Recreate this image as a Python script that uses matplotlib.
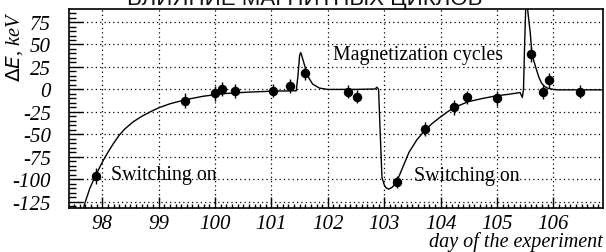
import matplotlib
matplotlib.use("Agg")
import matplotlib.pyplot as plt
from matplotlib.ticker import MultipleLocator, FixedLocator

# measured points
day = [97.88, 99.47, 100.00, 100.13, 100.35, 101.02, 101.33, 101.60, 102.36, 102.52,
       103.22, 103.73, 104.24, 104.47, 105.00, 105.60, 105.81, 105.92, 106.47]
dE = [-96, -12.5, -4.5, 0.5, -2, -1.5, 3.5, 18, -2.5, -8,
      -103, -44, -20, -9, -10, 39, -3, 10, -2.5]
dE_err = [9, 8, 8, 8, 8, 7, 8, 7, 7, 7, 7, 8, 8, 7, 8, 8, 8, 8, 7]

# fitted curve
curve_day = [97.62, 97.70, 97.78, 97.88, 98.00, 98.10, 98.20, 98.30, 98.40, 98.55,
             98.70, 98.85, 99.00, 99.20, 99.47, 99.80, 100.20, 100.60, 101.00,
             101.44, 101.47, 101.50, 101.52, 101.55,
             101.61, 101.67, 101.73, 101.85, 102.00, 102.50, 102.84, 102.87, 102.90,
             102.93, 102.96, 103.00, 103.03, 103.08, 103.14, 103.22, 103.32, 103.44,
             103.58, 103.73, 103.85, 103.97, 104.10, 104.24, 104.50, 104.75, 105.00,
             105.20, 105.41, 105.45, 105.47, 105.49, 105.51, 105.53, 105.55,
             105.59, 105.62, 105.68, 105.74, 105.79, 105.85, 105.91, 106.06, 106.90]
curve_dE = [-142, -125, -110, -96, -81, -70, -60, -51, -44, -36,
            -30, -25, -20.5, -16, -11.5, -7.5, -4.5, -3, -2,
            -1.5, 15, 38, 41, 35,
            22, 12, 6, 1.5, 0, 0, 0.5, 2.5, 0,
            -50, -98, -106, -109.5, -111, -109, -103, -88, -70,
            -56, -45, -38, -32, -26, -20, -13.5, -10, -7,
            -5.5, -3.5, -9, 0, 50, 92, 100, 85,
            63, 39, 26, 14, 7, 3, 1, -0.5, -0.5]

yticks = [75, 50, 25, 0, -25, -50, -75, -100, -125]
xticks = [98, 99, 100, 101, 102, 103, 104, 105, 106]

serif = ["Liberation Serif", "DejaVu Serif"]

fig = plt.figure(figsize=(6.06, 2.53), dpi=100)
ax = fig.add_axes([69/606, 44/253, 534/606, 199/253])

ax.plot(curve_day, curve_dE, color="black", lw=1.0, zorder=3)
ax.errorbar(day, dE, yerr=dE_err, fmt="o", color="black", ms=5.8, elinewidth=1.0,
            capsize=0, zorder=4)

ax.set_xlim(97.41, 106.88)
ax.set_ylim(-132, 89.5)

ax.xaxis.set_major_locator(FixedLocator(xticks))
ax.yaxis.set_major_locator(FixedLocator(yticks))
ax.xaxis.set_minor_locator(MultipleLocator(0.1))
ax.yaxis.set_minor_locator(MultipleLocator(5))
ax.set_xticklabels([str(t) for t in xticks])
ax.set_yticklabels([str(t) for t in yticks])

ax.tick_params(axis="x", which="major", direction="in", length=8, width=1, pad=4,
               top=False)
ax.tick_params(axis="x", which="minor", direction="in", length=3, width=1, top=False)
ax.tick_params(axis="y", which="major", direction="in", length=10, width=1, pad=13,
               right=False)
ax.tick_params(axis="y", which="minor", direction="in", length=5, width=1, right=False)
for lab in ax.get_xticklabels() + ax.get_yticklabels():
    lab.set_fontfamily(serif)
    lab.set_fontstyle("italic")
    lab.set_fontsize(15)

ax.grid(True, which="major", color="black", linestyle=(0, (1, 2.5)), lw=0.9)
for s in ax.spines.values():
    s.set_linewidth(1.2)

ax.text(102.1, 39, "Magnetization cycles", family=serif, fontsize=14.3,
        va="center", ha="left")
ax.text(98.15, -95, "Switching on", family=serif, fontsize=14.3, va="center", ha="left")
ax.text(103.53, -96, "Switching on", family=serif, fontsize=14.3, va="center", ha="left")

fig.text(603/606, 1 - 247/253, "day of the experiment", family=serif, style="italic",
         fontsize=14.5, ha="right", va="baseline")
fig.text(15/606, 1 - 11/253, r"$\Delta$$\it{E}$, keV", family=serif, style="italic",
         fontsize=14.5, rotation=90, ha="center", va="top")

fig.text(305/606, 1 - 5/253, "ВЛИЯНИЕ МАГНИТНЫХ ЦИКЛОВ",
         family=["Liberation Sans", "DejaVu Sans"], fontsize=16, ha="center",
         va="baseline", color="#111111")

fig.savefig("out.png", dpi=100)
